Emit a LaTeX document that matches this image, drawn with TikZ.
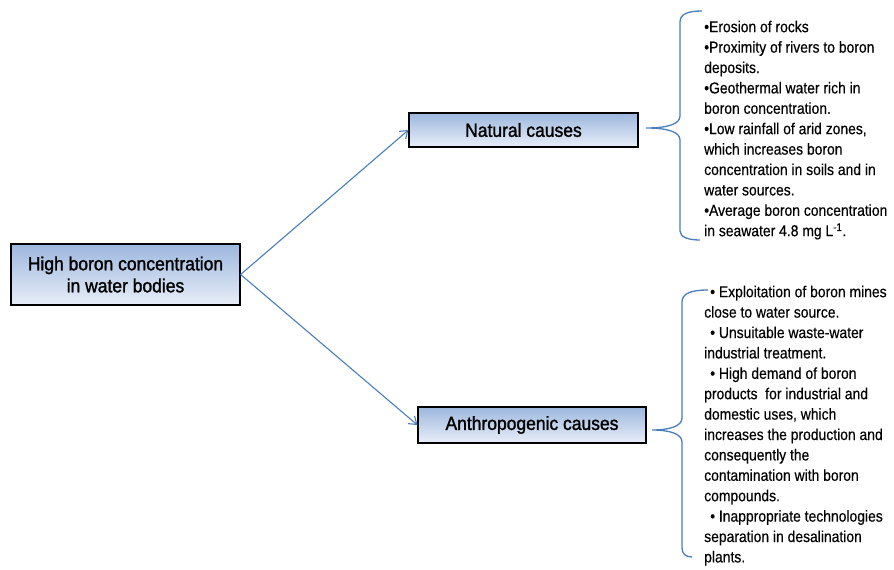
\documentclass[tikz,border=0pt]{standalone}
\usepackage{fontspec}
\setmainfont{Liberation Sans}
\newfontfamily\listfont[FakeStretch=0.88,FakeBold=0.4]{Liberation Sans}
\newfontfamily\boxfont[FakeStretch=0.92,FakeBold=1.4]{Liberation Sans}
\usetikzlibrary{arrows.meta}
\definecolor{lineblue}{RGB}{74,126,187}
\definecolor{boxtop}{RGB}{157,183,222}
\definecolor{boxbot}{RGB}{232,238,248}
\tikzset{
  causebox/.style={draw=black, line width=1.2pt, top color=boxtop, bottom color=boxbot,
    inner sep=0pt, align=center, font=\boxfont\fontsize{19}{22}\selectfont},
  link/.style={draw=lineblue, line width=1.1pt, -{Straight Barb[length=7pt,width=10pt]}},
  bracepath/.style={draw=lineblue, line width=1.3pt},
  listtext/.style={anchor=north west, inner sep=0pt, align=left, font=\listfont\fontsize{15.8}{20.4}\selectfont}
}
\begin{document}
\begin{tikzpicture}[x=1pt,y=-1pt]
\useasboundingbox (0,0) rectangle (894,570);
\node[causebox, minimum width=229pt, minimum height=61pt] (main) at (125.5,274.5)
  {High boron concentration\\in water bodies};
\node[causebox, minimum width=229pt, minimum height=34pt] (nat) at (523.5,130) {Natural causes};
\node[causebox, minimum width=228pt, minimum height=36pt] (ant) at (532,425) {Anthropogenic causes};
\draw[link] (main.east) -- (nat.west);
\draw[link] (main.east) -- (ant.west);
% natural brace
\coordinate (nattip) at (646,128);
\draw[bracepath] (702,11) .. controls (688,11) and (680,14) .. (680,22) -- (680,116)
  .. controls (680,124) and (668,128) .. (nattip)
  .. controls (668,128) and (680,132) .. (680,140) -- (680,231)
  .. controls (680,237) and (688,240) .. (700,240);
% anthropogenic brace
\coordinate (anttip) at (652,430);
\draw[bracepath] (708,290) .. controls (692,290) and (682,293) .. (682,302) -- (682,418)
  .. controls (682,426) and (670,430) .. (anttip)
  .. controls (670,430) and (682,434) .. (682,442) -- (682,548)
  .. controls (682,554) and (686,557) .. (692,557);
\node[listtext] (natlist) at (704,20) {\rule{0pt}{12pt}•Erosion of rocks\\
•Proximity of rivers to boron\\
deposits.\\
•Geothermal water rich in\\
boron concentration.\\
•Low rainfall of arid zones,\\
which increases boron\\
concentration in soils and in\\
water sources.\\
•Average boron concentration\\
in seawater 4.8 mg L\textsuperscript{-1}.};
\node[listtext] (antlist) at (704,285) {\rule{0pt}{12pt}\hspace*{6pt}• Exploitation of boron mines\\
close to water source.\\
\hspace*{6pt}• Unsuitable waste-water\\
industrial treatment.\\
\hspace*{6pt}• High demand of boron\\
products\ \ for industrial and\\
domestic uses, which\\
increases the production and\\
consequently the\\
contamination with boron\\
compounds.\\
\hspace*{6pt}• Inappropriate technologies\\
separation in desalination\\
plants.};
\end{tikzpicture}
\end{document}
